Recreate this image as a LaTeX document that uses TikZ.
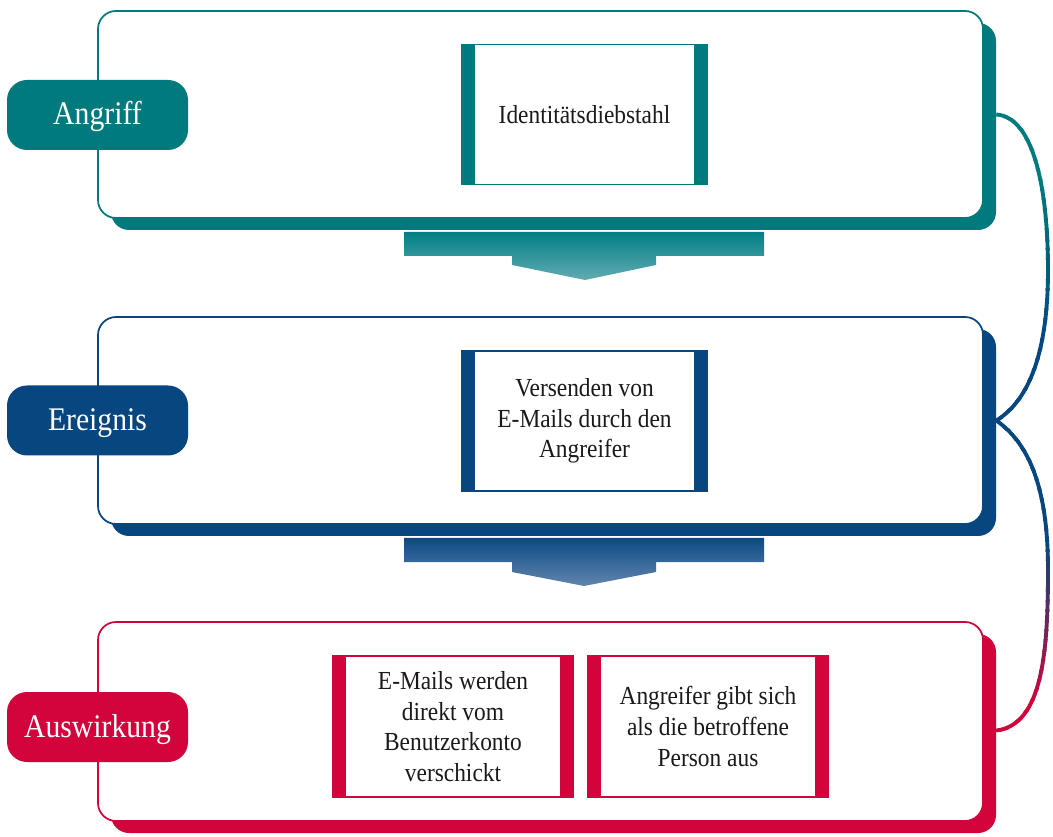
\documentclass[tikz,border=0pt]{standalone}
\usepackage{fontspec}
\setmainfont{Liberation Serif}
\newfontfamily\cf[FakeStretch=0.9]{Liberation Serif}
\usetikzlibrary{calc}
\definecolor{cteal}{HTML}{007A7C}
\definecolor{cblue}{HTML}{07467E}
\definecolor{cred}{HTML}{D2043B}
\definecolor{tealtop}{HTML}{007F86}
\definecolor{tealbot}{HTML}{62ACB1}
\definecolor{bluetop}{HTML}{0B4A84}
\definecolor{bluebot}{HTML}{6285AE}
\definecolor{ink}{HTML}{1A1A1A}
\begin{document}
\begin{tikzpicture}[x=0.75pt,y=-0.75pt,
  bigbox/.style={draw=#1, line width=1.3pt, fill=white, rounded corners=13.5pt, minimum width=663.75pt, inner sep=0pt},
  shadowbox/.style={fill=#1, rounded corners=13.5pt, minimum width=663.75pt, inner sep=0pt},
  pill/.style={fill=#1, rounded corners=15pt, minimum width=135.75pt, minimum height=52.5pt, inner sep=0pt,
    text=white, text height=15pt, text depth=0pt, font=\cf\fontsize{24.75pt}{28pt}\selectfont},
  innerbox/.style={draw=#1, line width=1.1pt, fill=white, minimum height=105pt, inner sep=0pt, align=center,
    text=ink, font=\cf\fontsize{19.5pt}{23pt}\selectfont},
  bar/.style={fill=#1},
  conn/.style={line width=2.9pt},
]
\useasboundingbox (0,0) rectangle (1053,837);

% ---------- Box 1 ----------
\node[shadowbox=cteal, minimum height=155.25pt] (sh1) at (553.5,126.5) {};
\node[bigbox=cteal, minimum height=155.25pt] (box1) at (540.5,114.5) {};
\node[pill=cteal] (l1) at (97.5,115) {Angriff};
\node[innerbox=cteal, minimum width=183.75pt] (i1) at (584.5,114.5) {Identitätsdiebstahl};
\fill[bar=cteal] (i1.north west) rectangle ($(i1.south west)+(14,0)$);
\fill[bar=cteal] (i1.north east) rectangle ($(i1.south east)+(-14,0)$);

% ---------- Arrow 1 ----------
\shade[top color=tealtop, bottom color=tealbot]
  (404,232) -- (764,232) -- (764,256) -- (656,256) -- (656,265) -- (585,280)
  -- (512,265) -- (512,256) -- (404,256) -- cycle;

% ---------- Box 2 ----------
\node[shadowbox=cblue, minimum height=155.25pt] (sh2) at (553.5,432.5) {};
\node[bigbox=cblue, minimum height=155.25pt] (box2) at (540.5,420.5) {};
\node[pill=cblue] (l2) at (97.5,420.5) {Ereignis};
\node[innerbox=cblue, minimum width=183.75pt] (i2) at (584.5,421) {Versenden von\\E-Mails durch den\\Angreifer};
\fill[bar=cblue] (i2.north west) rectangle ($(i2.south west)+(14,0)$);
\fill[bar=cblue] (i2.north east) rectangle ($(i2.south east)+(-14,0)$);

% ---------- Arrow 2 ----------
\shade[top color=bluetop, bottom color=bluebot]
  (404,538) -- (764,538) -- (764,562) -- (656,562) -- (656,572) -- (584,586)
  -- (512,572) -- (512,562) -- (404,562) -- cycle;

% ---------- Box 3 ----------
\node[shadowbox=cred, minimum height=149.25pt] (sh3) at (553.5,733.5) {};
\node[bigbox=cred, minimum height=149.25pt] (box3) at (540.5,721.5) {};
\node[pill=cred] (l3) at (97.5,727) {Auswirkung};
\node[innerbox=cred, minimum width=180pt, minimum height=105.75pt] (i3a) at (453,726.5) {E-Mails werden\\direkt vom\\Benutzerkonto\\verschickt};
\fill[bar=cred] (i3a.north west) rectangle ($(i3a.south west)+(14,0)$);
\fill[bar=cred] (i3a.north east) rectangle ($(i3a.south east)+(-14,0)$);
\node[innerbox=cred, minimum width=180pt, minimum height=105.75pt] (i3b) at (708,726.5) {Angreifer gibt sich\\als die betroffene\\Person aus};
\fill[bar=cred] (i3b.north west) rectangle ($(i3b.south west)+(14,0)$);
\fill[bar=cred] (i3b.north east) rectangle ($(i3b.south east)+(-14,0)$);

% ---------- Connector bracket ----------
\coordinate (c1) at (sh1.east |- box1.east);
\coordinate (c2) at (sh2.east |- box2.east);
\coordinate (c3) at ($(sh3.east)+(0,-3)$);
\foreach \y in {100,110,...,740}{
  \pgfmathsetmacro\pa{min(100,max(0,(340-\y)/1.6))}
  \pgfmathsetmacro\pr{min(100,max(0,(\y-540)/1.6))}
  \colorlet{cmix}{cteal!\pa!cblue}
  \begin{scope}
    \clip (940,\y-1) rectangle (1060,\y+11);
    \draw[conn, draw=cred!\pr!cmix] (c1) .. controls (1034,117) and (1048,190) .. (1048,270)
      .. controls (1048,350) and (1030,400) .. (c2);
    \draw[conn, draw=cred!\pr!cmix] (c2) .. controls (1030,444) and (1048,490) .. (1048,570)
      .. controls (1048,650) and (1043,725) .. (c3);
  \end{scope}
}
\end{tikzpicture}
\end{document}
